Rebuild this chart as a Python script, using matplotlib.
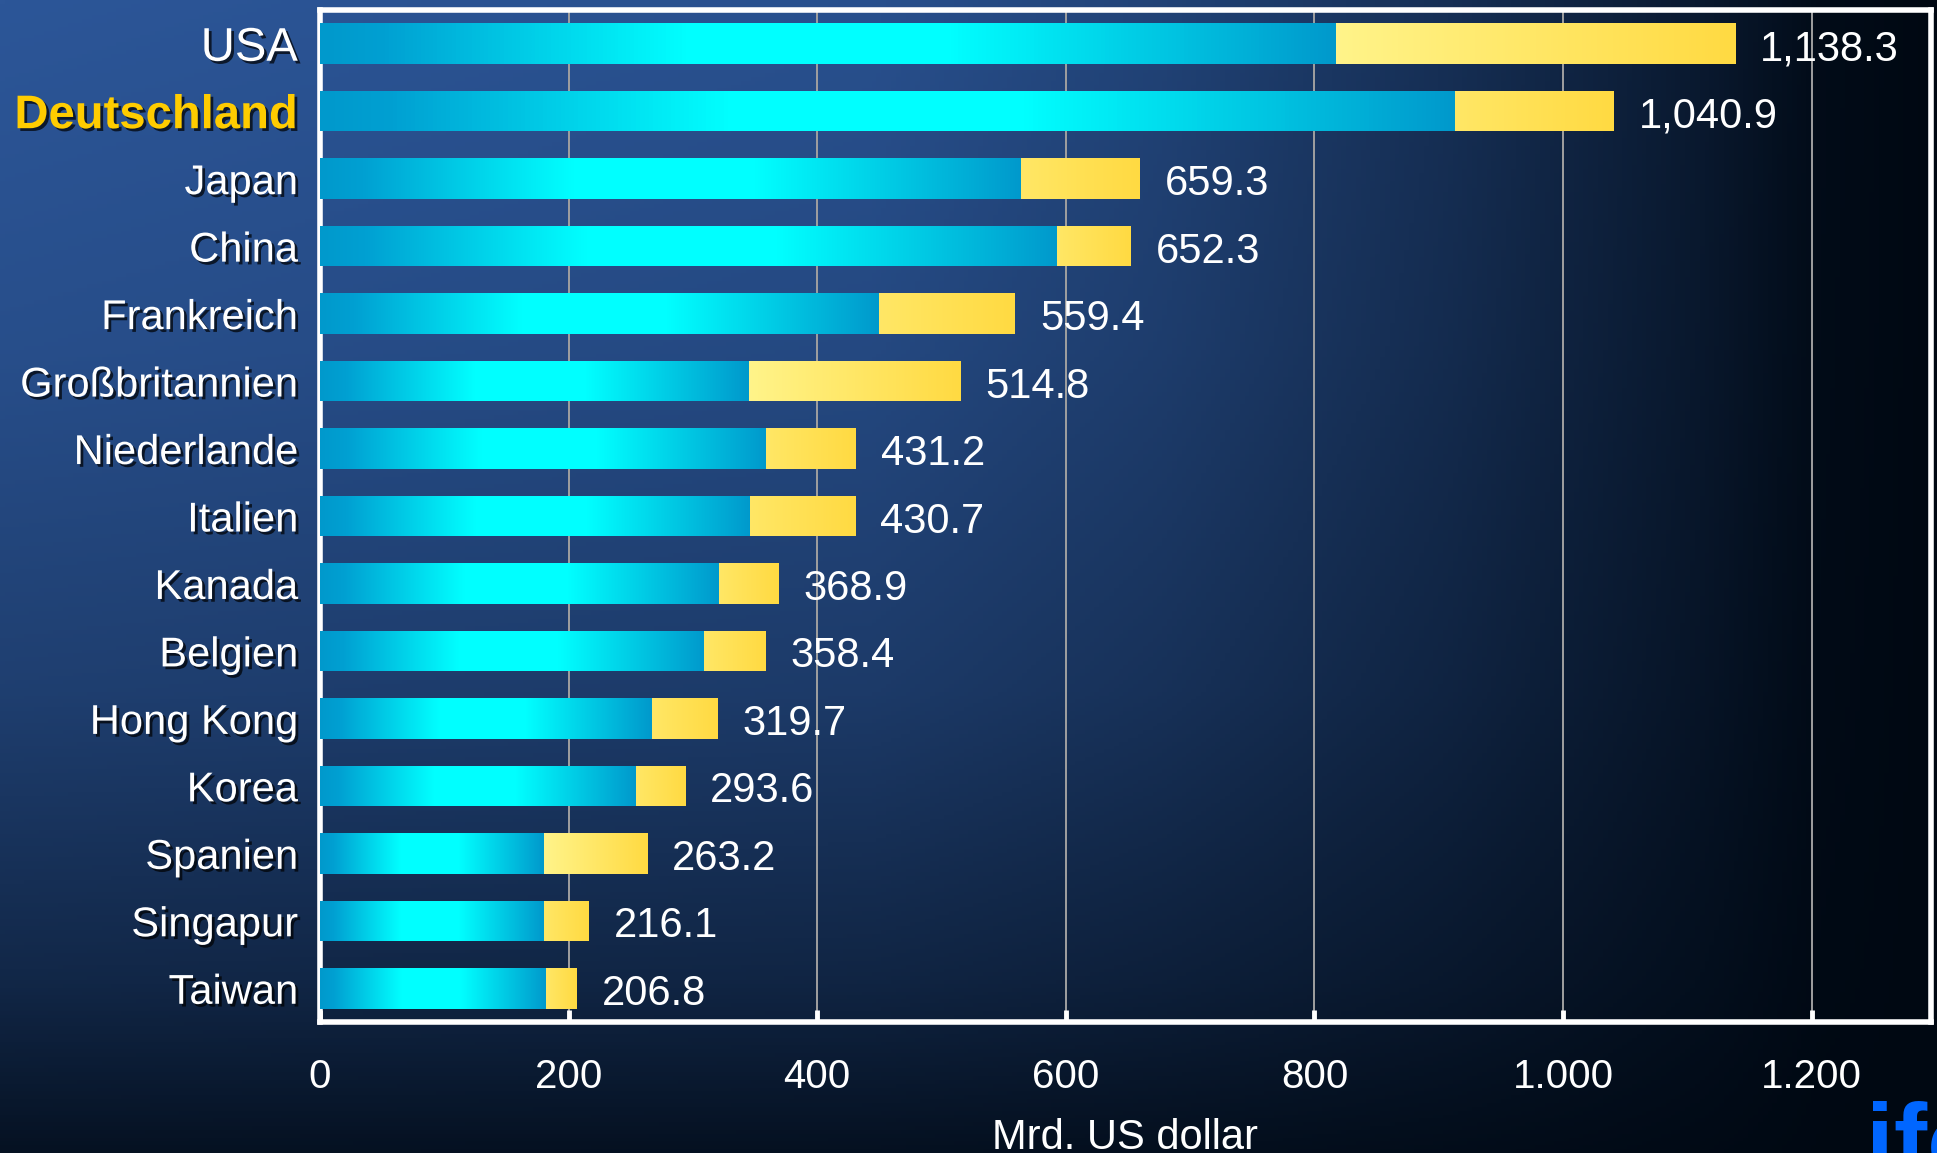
import numpy as np
import matplotlib
matplotlib.use('Agg')
from matplotlib import pyplot as plt
import matplotlib.patheffects as pe
from matplotlib.colors import LinearSegmentedColormap

plt.rcParams['font.family'] = ['Liberation Sans', 'DejaVu Sans']

# data: exports, blue part (goods) and total, Mrd. US dollar
countries = ['USA', 'Deutschland', 'Japan', 'China', 'Frankreich', 'Großbritannien',
             'Niederlande', 'Italien', 'Kanada', 'Belgien', 'Hong Kong', 'Korea',
             'Spanien', 'Singapur', 'Taiwan']
blue_part = [817, 913, 564, 593, 450, 345, 359, 346, 321, 309, 267, 254, 180, 180, 182]
totals = [1138.3, 1040.9, 659.3, 652.3, 559.4, 514.8, 431.2, 430.7, 368.9, 358.4,
          319.7, 293.6, 263.2, 216.1, 206.8]
yellow_part = [t - b for t, b in zip(totals, blue_part)]
xticks = [0, 200, 400, 600, 800, 1000, 1200]
xtick_labels = ['0', '200', '400', '600', '800', '1.000', '1.200']

light_yellow = {'USA', 'Großbritannien', 'Spanien'}

W, H = 1937, 1153
fig = plt.figure(figsize=(W / 100, H / 100), dpi=100)

# background gradient
bg = fig.add_axes([0, 0, 1, 1], zorder=-5)
gx = np.linspace(0, 1, 400)
gy = np.linspace(0, 1, 300)
g = np.interp(gx, [0, 0.45, 0.6, 0.75, 0.88, 0.94, 1], [1, 0.92, 0.75, 0.5, 0.22, 0.05, 0])
h = np.interp(gy, [0, 0.3, 0.6, 0.85, 1], [1, 0.9, 0.7, 0.4, 0.12])
f = h[:, None] * g[None, :]
top = np.array([44, 86, 152]) / 255
dark = np.array([0, 8, 18]) / 255
img = dark + (top - dark) * f[..., None]
bg.imshow(img, aspect='auto', extent=[0, 1, 0, 1], origin='upper')
bg.axis('off')

ax = fig.add_axes([320 / W, 1 - 1022 / H, (1931 - 320) / W, (1022 - 10) / H])
ax.set_facecolor('none')

y = np.arange(len(countries))
bars_b = ax.barh(y, blue_part, height=0.6, color='#00CCEE', zorder=2)
bars_y = ax.barh(y, yellow_part, left=blue_part, height=0.6, color='#FFDD55', zorder=2)

blue_cmap = LinearSegmentedColormap.from_list('blu', [
    (0, '#0099CC'), (0.06, '#00A0D2'), (0.36, '#00FFFF'),
    (0.62, '#00FFFF'), (1, '#0099CC')])
yel_light = LinearSegmentedColormap.from_list('yl', ['#FFF48A', '#FFDA42'])
yel_mid = LinearSegmentedColormap.from_list('ym', ['#FFE766', '#FFDA42'])
grad = np.linspace(0, 1, 256)[None, :]

def fill_gradient(rect, cmap):
    x0, y0 = rect.get_x(), rect.get_y()
    w, hh = rect.get_width(), rect.get_height()
    im = ax.imshow(grad, cmap=cmap, aspect='auto', extent=[x0, x0 + w, y0 + hh, y0],
                   interpolation='bilinear', zorder=3)
    im.set_clip_path(rect)

for i, (rb, ry) in enumerate(zip(bars_b, bars_y)):
    fill_gradient(rb, blue_cmap)
    fill_gradient(ry, yel_light if countries[i] in light_yellow else yel_mid)

for i, t in enumerate(totals):
    ax.annotate(f'{t:,.1f}', xy=(t, i), xytext=(18, -4), textcoords='offset points',
                ha='left', va='center', color='white', fontsize=30, zorder=5)

ax.set_xlim(0, 1296)
ax.set_ylim(len(countries) - 0.5, -0.5)

ax.set_xticks(xticks)
ax.set_xticklabels(xtick_labels)
ax.set_yticks(y)
ax.set_yticklabels(countries)
ax.grid(axis='x', color='#A0A0A0', linewidth=1.4, zorder=1)
ax.set_axisbelow(True)
ax.tick_params(axis='x', direction='in', length=8.5, width=3.5, color='white',
               pad=26, labelsize=29, labelcolor='white')
ax.tick_params(axis='y', length=0, pad=16, labelsize=30, labelcolor='white')

shadow = [pe.withSimplePatchShadow(offset=(2, -2), shadow_rgbFace='black', alpha=0.7)]
for lab in ax.get_yticklabels():
    lab.set_path_effects(shadow)
    if lab.get_text() == 'USA':
        lab.set_fontsize(34)
    if lab.get_text() == 'Deutschland':
        lab.set_fontsize(34)
        lab.set_fontweight('bold')
        lab.set_color('#FFCC00')

for s in ax.spines.values():
    s.set_color('white')
    s.set_linewidth(4)

fig.text(1125 / W, 1 - 1149 / H, 'Mrd. US dollar', ha='center', va='baseline',
         color='white', fontsize=30)
fig.text(1866 / W, -0.018, 'ifo', ha='left', va='baseline', color='#0066FF',
         fontsize=72, fontweight='bold')

fig.savefig('out.png', dpi=100)
